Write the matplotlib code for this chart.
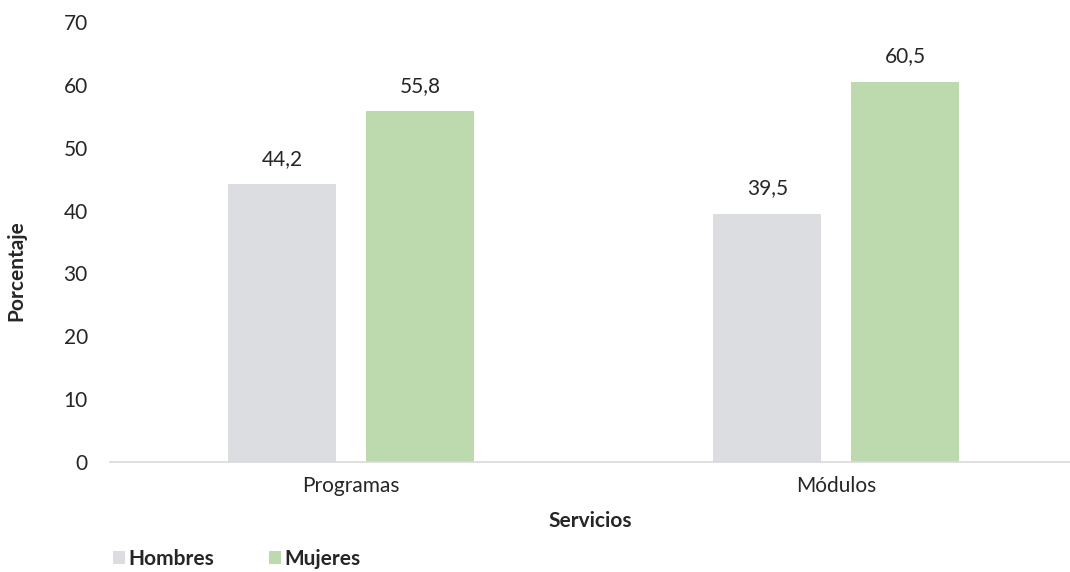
import matplotlib
matplotlib.use("Agg")
import matplotlib.pyplot as plt

categories = ["Programas", "Módulos"]
series_names = ["Hombres", "Mujeres"]
hombres = [44.2, 39.5]
mujeres = [55.8, 60.5]
yticks = [0, 10, 20, 30, 40, 50, 60, 70]

colors = ["#DCDDE0", "#BDD9AE"]
text_color = "#262626"
plt.rcParams['font.family'] = ['Lato', 'DejaVu Sans']
FS = 15

fig = plt.figure(figsize=(10.7, 5.72), dpi=100)
ax = fig.add_axes([110/1070, 110/572, 960/1070, 440/572])

x = list(range(len(categories)))
w = 0.223
off = 0.142
b1 = ax.bar([i - off for i in x], hombres, width=w, color=colors[0], label=series_names[0], zorder=2)
b2 = ax.bar([i + off for i in x], mujeres, width=w, color=colors[1], label=series_names[1], zorder=2)

for bars, vals in ((b1, hombres), (b2, mujeres)):
    for r, v in zip(bars, vals):
        ax.annotate(f"{v:.1f}".replace(".", ","), (r.get_x() + r.get_width()/2, v),
                    xytext=(0, 11), textcoords="offset points", ha="center", va="bottom",
                    fontsize=FS, color=text_color)

ax.set_xlim(-0.497, 1.482)
ax.set_ylim(0, 70)
ax.set_yticks(yticks)
ax.set_yticklabels([str(t) for t in yticks], fontsize=FS, color=text_color)
ax.set_xticks(x)
ax.set_xticklabels(categories, fontsize=FS, color=text_color)
ax.tick_params(axis="both", length=0)
ax.tick_params(axis="y", pad=16)
ax.tick_params(axis="x", pad=10)
for s in ["top", "right", "left"]:
    ax.spines[s].set_visible(False)
ax.spines["bottom"].set_color("#D9D9D9")
ax.spines["bottom"].set_linewidth(1.2)

ax.set_ylabel("Porcentaje", fontsize=FS, fontweight="bold", color=text_color)
ax.yaxis.set_label_coords(-84/960, 0.436)
ax.set_xlabel("Servicios", fontsize=FS, fontweight="bold", color=text_color)
ax.xaxis.set_label_coords(0.5, -0.111)

# legend
leg = fig.legend(handles=[b1, b2], labels=series_names, loc="lower left",
                 bbox_to_anchor=(94/1070, -16/572), ncol=2, frameon=False,
                 handlelength=0.58, handleheight=0.58, handletextpad=0.18,
                 columnspacing=2.6, prop={"weight": "bold", "size": FS})
for t in leg.get_texts():
    t.set_color(text_color)

fig.savefig("out.png", dpi=100)
